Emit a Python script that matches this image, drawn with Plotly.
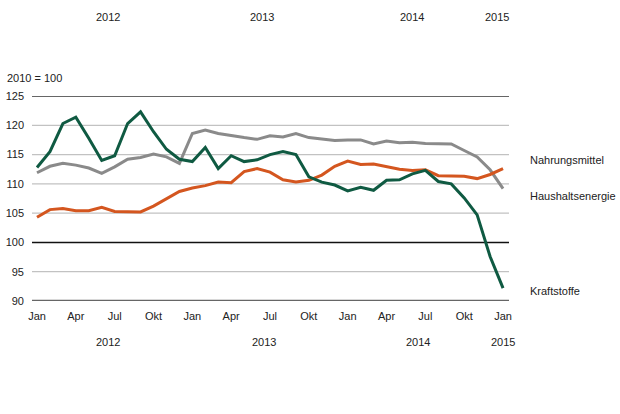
import plotly.graph_objects as go

months = list(range(37))  # Jan 2012 .. Jan 2015
month_tick_vals = [0, 3, 6, 9, 12, 15, 18, 21, 24, 27, 30, 33, 36]
month_tick_text = ["Jan", "Apr", "Jul", "Okt", "Jan", "Apr", "Jul", "Okt", "Jan", "Apr", "Jul", "Okt", "Jan"]

nahrungsmittel = [111.9, 113.0, 113.5, 113.2, 112.7, 111.8, 112.9, 114.2, 114.5, 115.1, 114.6, 113.5,
                  118.6, 119.2, 118.6, 118.2, 117.9, 117.6, 118.2, 118.0, 118.6, 117.9, 117.6, 117.4,
                  117.5, 117.5, 116.8, 117.3, 117.0, 117.1, 116.9, 116.9, 116.8, 115.7, 114.6, 112.4,
                  109.2]
haushaltsenergie = [104.3, 105.6, 105.8, 105.4, 105.4, 106.0, 105.3, 105.3, 105.2, 106.2, 107.4, 108.7,
                    109.3, 109.7, 110.3, 110.2, 112.1, 112.6, 112.0, 110.7, 110.3, 110.6, 111.5, 113.0,
                    113.9, 113.3, 113.4, 113.0, 112.5, 112.3, 112.4, 111.4, 111.4, 111.3, 110.9, 111.6,
                    112.6]
kraftstoffe = [112.8, 115.5, 120.3, 121.4, 117.8, 114.0, 114.8, 120.3, 122.3, 118.9, 115.9, 114.2,
               113.8, 116.2, 112.6, 114.8, 113.8, 114.1, 115.0, 115.5, 115.0, 111.2, 110.3, 109.8,
               108.8, 109.4, 108.9, 110.6, 110.7, 111.7, 112.3, 110.4, 110.0, 107.6, 104.7, 97.6,
               92.2]

series_names = ["Nahrungsmittel", "Haushaltsenergie", "Kraftstoffe"]
series_colors = ["#8a8a8a", "#d4561f", "#0f5a42"]
label_y = [114.1, 107.9, 91.7]

y_ticks = [90, 95, 100, 105, 110, 115, 120, 125]
grid_styles = {90: ("#666666", 2.5), 100: ("#111111", 1.5), 125: ("#666666", 2)}

top_years = ["2012", "2013", "2014", "2015"]
top_year_x = [5.5, 17.4, 29.0, 35.5]
bottom_year_x = [5.5, 17.5, 29.4, 36.0]

font_family = "Liberation Sans, Arial, sans-serif"
text_color = "#222222"

fig = go.Figure()
for name, vals, col in zip(series_names, [nahrungsmittel, haushaltsenergie, kraftstoffe], series_colors):
    fig.add_trace(go.Scatter(x=months, y=vals, mode="lines", name=name,
                             line=dict(color=col, width=3), showlegend=False))

for yv in y_ticks:
    col, w = grid_styles.get(yv, ("#c2c2c2", 1.2))
    fig.add_shape(type="line", xref="paper", yref="y", x0=0, x1=1, y0=yv, y1=yv,
                  line=dict(color=col, width=w), layer="below")

annotations = []
for name, yv in zip(series_names, label_y):
    annotations.append(dict(x=1.04, xref="paper", y=yv, yref="y", text=name, showarrow=False,
                            xanchor="left", yanchor="middle",
                            font=dict(family=font_family, size=11, color=text_color)))
for t, xv in zip(top_years, top_year_x):
    annotations.append(dict(x=xv, xref="x", y=1.385, yref="paper", text=t, showarrow=False,
                            xanchor="center", yanchor="middle",
                            font=dict(family=font_family, size=11, color=text_color)))
for t, xv in zip(top_years, bottom_year_x):
    annotations.append(dict(x=xv, xref="x", y=-0.2, yref="paper", text=t, showarrow=False,
                            xanchor="center", yanchor="middle",
                            font=dict(family=font_family, size=11, color=text_color)))
annotations.append(dict(x=-0.057, xref="paper", y=1.09, yref="paper", text="2010 = 100", showarrow=False,
                        xanchor="left", yanchor="middle",
                        font=dict(family=font_family, size=11, color=text_color)))

fig.update_layout(
    width=620, height=414,
    margin=dict(l=32, r=111, t=96, b=113),
    paper_bgcolor="white", plot_bgcolor="white",
    font=dict(family=font_family, size=11, color=text_color),
    annotations=annotations,
    hovermode=False,
    xaxis=dict(range=[-0.386, 36.46], tickvals=month_tick_vals, ticktext=month_tick_text,
               showgrid=False, zeroline=False, showline=False, ticks="", ticklen=0,
               automargin=False, ticklabelstandoff=7, tickfont=dict(size=11, color=text_color)),
    yaxis=dict(range=[90, 125], tickvals=y_ticks,
               showgrid=False, zeroline=False, showline=False, automargin=False,
               ticks="", ticklabelstandoff=7, tickfont=dict(size=11, color=text_color)),
)

fig.write_html("out.html", config={"displayModeBar": False},
               post_script="document.body.style.margin='0';")
